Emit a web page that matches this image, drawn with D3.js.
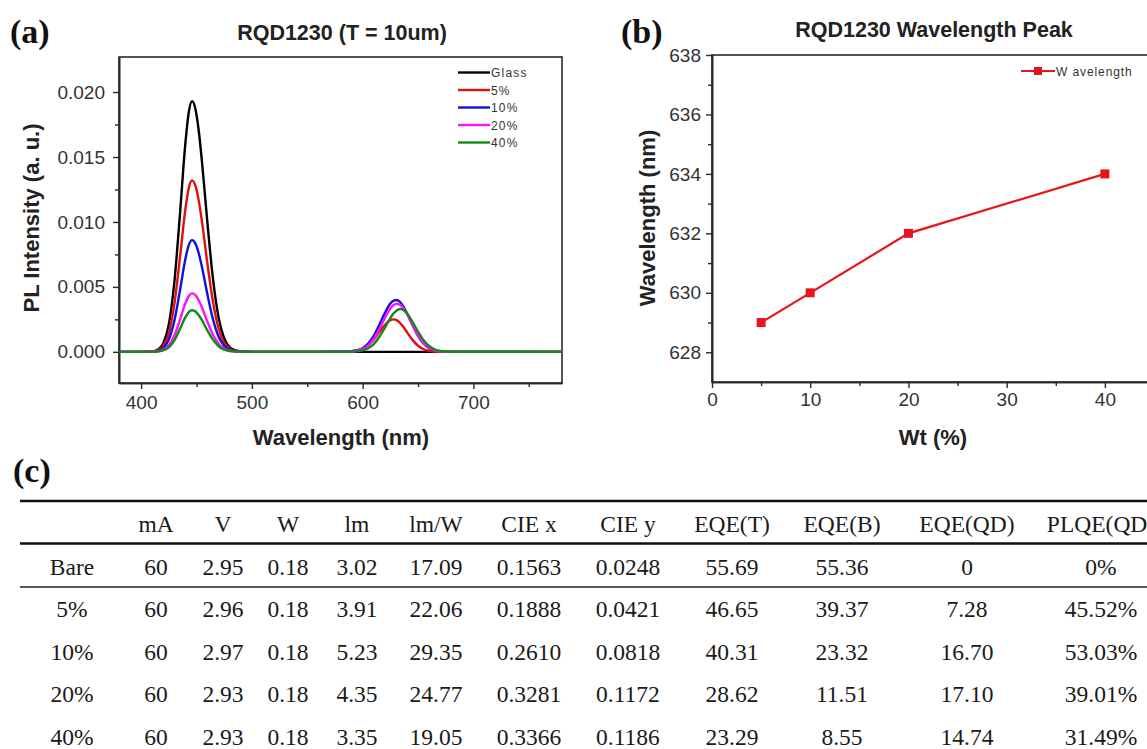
<!DOCTYPE html>
<html>
<head>
<meta charset="utf-8">
<script src="https://cdn.jsdelivr.net/npm/d3@7/dist/d3.min.js"></script>
<style>
  html, body { margin: 0; padding: 0; background: #fff; }
  svg { display: block; }
</style>
</head>
<body>
<svg id="chart" width="1147" height="749"></svg>
<script>
// ---------------- DATA ----------------
// Panel (a): PL spectra
const wavelengths = [380, 400, 410, 415, 420, 425, 430, 435, 440, 443, 446, 449, 452, 455, 460, 465, 470, 475, 480, 485, 490, 500,
  560, 590, 600, 605, 610, 615, 620, 625, 628, 631, 634, 637, 640, 645, 650, 655, 660, 665, 670, 680, 780];
const seriesNames = ["Glass", "5%", "10%", "20%", "40%"];
const glassValues = [0, 0, 0.00003, 0.00016, 0.00066, 0.00212, 0.00537, 0.01054, 0.01612, 0.01845, 0.0193, 0.0187, 0.01702, 0.01457, 0.00977, 0.00552, 0.00261, 0.00104, 0.00035, 0.00012, 0.00004, 0,
  0, 0, 0, 0, 0, 0, 0, 0, 0, 0, 0, 0, 0, 0, 0, 0, 0, 0, 0, 0, 0];
const wt5Values = [0, 0, 0.00002, 0.00011, 0.00045, 0.00145, 0.00367, 0.00721, 0.01102, 0.01262, 0.0132, 0.01279, 0.01164, 0.00997, 0.00668, 0.00378, 0.00178, 0.00071, 0.00024, 0.00008, 0.00003, 0,
  0, 0.00004, 0.00025, 0.00052, 0.00096, 0.00152, 0.00207, 0.00244, 0.0025, 0.00242, 0.0022, 0.00189, 0.00152, 0.00092, 0.00047, 0.0002, 0.00007, 0.00002, 0, 0, 0];
const wt10Values = [0, 0, 0.00001, 0.00007, 0.00029, 0.00095, 0.00239, 0.0047, 0.00718, 0.00822, 0.0086, 0.00833, 0.00759, 0.00649, 0.00435, 0.00246, 0.00116, 0.00046, 0.00015, 0.00005, 0.00002, 0,
  0, 0.00004, 0.00028, 0.00063, 0.00122, 0.00206, 0.00298, 0.00372, 0.00395, 0.00399, 0.00382, 0.00346, 0.00298, 0.00206, 0.00122, 0.00063, 0.00028, 0.00011, 0.00004, 0, 0];
const wt20Values = [0, 0, 0.00001, 0.00004, 0.00015, 0.0005, 0.00125, 0.00246, 0.00376, 0.0043, 0.0045, 0.00436, 0.00397, 0.0034, 0.00228, 0.00129, 0.00061, 0.00024, 0.00008, 0.00003, 0.00001, 0,
  0, 0.00003, 0.00022, 0.0005, 0.001, 0.00174, 0.00259, 0.00333, 0.0036, 0.0037, 0.0036, 0.00333, 0.00291, 0.00207, 0.00127, 0.00067, 0.00031, 0.00012, 0.00004, 0, 0];
const wt40Values = [0, 0, 0, 0.00003, 0.00011, 0.00035, 0.00089, 0.00175, 0.00267, 0.00306, 0.0032, 0.0031, 0.00282, 0.00242, 0.00162, 0.00092, 0.00043, 0.00017, 0.00006, 0.00002, 0.00001, 0,
  0, 0.00001, 0.00011, 0.00027, 0.0006, 0.00114, 0.00185, 0.0026, 0.00297, 0.00321, 0.0033, 0.00321, 0.00297, 0.00231, 0.00155, 0.00089, 0.00045, 0.00019, 0.00007, 0.00001, 0];
const aXTicks = [400, 500, 600, 700];
const aXMinor = [450, 550, 650, 750];
const aYTicks = [0, 0.005, 0.010, 0.015, 0.020];
const aYMinor = [0.0025, 0.0075, 0.0125, 0.0175];

// Panel (b): peak wavelength vs Wt
const wtPercent = [5, 10, 20, 40];
const peakWavelength = [629, 630, 632, 634];
const bXTicks = [0, 10, 20, 30, 40];
const bXMinor = [5, 15, 25, 35, 45];
const bYTicks = [628, 630, 632, 634, 636, 638];
const bYMinor = [629, 631, 633, 635, 637];

// Panel (c): table
const tableHeaders = ["", "mA", "V", "W", "lm", "lm/W", "CIE x", "CIE y", "EQE(T)", "EQE(B)", "EQE(QD)", "PLQE(QD)"];
const rowLabels = ["Bare", "5%", "10%", "20%", "40%"];
const colMA = ["60", "60", "60", "60", "60"];
const colV = ["2.95", "2.96", "2.97", "2.93", "2.93"];
const colW = ["0.18", "0.18", "0.18", "0.18", "0.18"];
const colLm = ["3.02", "3.91", "5.23", "4.35", "3.35"];
const colLmW = ["17.09", "22.06", "29.35", "24.77", "19.05"];
const colCIEx = ["0.1563", "0.1888", "0.2610", "0.3281", "0.3366"];
const colCIEy = ["0.0248", "0.0421", "0.0818", "0.1172", "0.1186"];
const colEQET = ["55.69", "46.65", "40.31", "28.62", "23.29"];
const colEQEB = ["55.36", "39.37", "23.32", "11.51", "8.55"];
const colEQEQD = ["0", "7.28", "16.70", "17.10", "14.74"];
const colPLQE = ["0%", "45.52%", "53.03%", "39.01%", "31.49%"];

// ---------------- LAYOUT / STYLE ----------------
const SANS = "'Liberation Sans', Arial, sans-serif";
const SERIF = "'Liberation Serif', 'Times New Roman', serif";
const AXIS_COLOR = "#2a2a2a";
const TICK_TEXT = "#333";
const seriesColors = ["#000000", "#e01010", "#1010e0", "#ff10ff", "#138a13"];
const pointColor = "#e8141b";

const svg = d3.select("#chart");

function styleAxis(g, fontSize) {
  g.selectAll(".domain").attr("stroke", AXIS_COLOR).attr("stroke-width", 1.6);
  g.selectAll(".tick line").attr("stroke", AXIS_COLOR).attr("stroke-width", 1.4);
  g.selectAll(".tick text").attr("fill", TICK_TEXT).style("font-family", SANS).style("font-size", fontSize + "px");
}

// ---------------- PANEL (a) ----------------
const A = { left: 119, right: 562, top: 57, bottom: 383 };
const xA = d3.scaleLinear().domain([380, 780]).range([A.left, A.right]);
const yA = d3.scaleLinear().domain([-0.0024, 0.0227]).range([A.bottom, A.top]);

const gA = svg.append("g");
gA.append("rect").attr("x", A.left).attr("y", A.top).attr("width", A.right - A.left).attr("height", A.bottom - A.top)
  .attr("fill", "none").attr("stroke", AXIS_COLOR).attr("stroke-width", 1.6);

gA.append("g").attr("transform", `translate(0,${A.bottom})`)
  .call(d3.axisBottom(xA).tickValues(aXMinor).tickSize(4).tickFormat("").tickSizeOuter(0))
  .call(g => styleAxis(g, 19));
gA.append("g").attr("transform", `translate(0,${A.bottom})`)
  .call(d3.axisBottom(xA).tickValues(aXTicks).tickSize(6).tickPadding(7).tickFormat(d3.format("d")).tickSizeOuter(0))
  .call(g => styleAxis(g, 19));
gA.append("g").attr("transform", `translate(${A.left},0)`)
  .call(d3.axisLeft(yA).tickValues(aYMinor).tickSize(4).tickFormat("").tickSizeOuter(0))
  .call(g => styleAxis(g, 19));
gA.append("g").attr("transform", `translate(${A.left},0)`)
  .call(d3.axisLeft(yA).tickValues(aYTicks).tickSize(6).tickPadding(8).tickFormat(d3.format(".3f")).tickSizeOuter(0))
  .call(g => styleAxis(g, 19));

const seriesValues = [glassValues, wt5Values, wt10Values, wt20Values, wt40Values];
const lineA = d3.line().x(d => xA(d[0])).y(d => yA(d[1])).curve(d3.curveMonotoneX);
svg.append("clipPath").attr("id", "clipA").append("rect")
  .attr("x", A.left).attr("y", A.top).attr("width", A.right - A.left).attr("height", A.bottom - A.top);
seriesValues.forEach((vals, i) => {
  const pts = wavelengths.map((w, j) => [w, vals[j]]);
  gA.append("path").datum(pts).attr("d", lineA).attr("fill", "none")
    .attr("stroke", seriesColors[i]).attr("stroke-width", 2.4).attr("stroke-linejoin", "round")
    .attr("clip-path", "url(#clipA)");
});

// legend (a)
const legA = gA.append("g");
seriesNames.forEach((name, i) => {
  const y = 72.5 + i * 17.5;
  legA.append("line").attr("x1", 458).attr("x2", 490).attr("y1", y).attr("y2", y)
    .attr("stroke", seriesColors[i]).attr("stroke-width", 2.4);
  legA.append("text").attr("x", 491).attr("y", y + 4.5).text(name)
    .style("font-family", SANS).style("font-size", "12px").style("letter-spacing", "1.2px").attr("fill", "#333");
});

// titles / labels (a)
svg.append("text").attr("x", 342).attr("y", 40).attr("text-anchor", "middle").text("RQD1230 (T = 10um)")
  .style("font-family", SANS).style("font-weight", "bold").style("font-size", "21.5px").attr("fill", "#222");
svg.append("text").attr("x", 341).attr("y", 445).attr("text-anchor", "middle").text("Wavelength (nm)")
  .style("font-family", SANS).style("font-weight", "bold").style("font-size", "22px").attr("fill", "#222");
svg.append("text").attr("transform", "translate(39,218) rotate(-90)").attr("text-anchor", "middle").text("PL Intensity (a. u.)")
  .style("font-family", SANS).style("font-weight", "bold").style("font-size", "22px").attr("fill", "#222");
svg.append("text").attr("x", 10).attr("y", 43).text("(a)")
  .style("font-family", SERIF).style("font-weight", "bold").style("font-size", "34px").attr("fill", "#111");

// ---------------- PANEL (b) ----------------
const B = { left: 712, right: 1154, top: 55, bottom: 382 };
const xB = d3.scaleLinear().domain([0, 45]).range([B.left, B.right]);
const yB = d3.scaleLinear().domain([627, 638]).range([B.bottom, B.top]);
const gB = svg.append("g");
gB.append("rect").attr("x", B.left).attr("y", B.top).attr("width", B.right - B.left).attr("height", B.bottom - B.top)
  .attr("fill", "none").attr("stroke", AXIS_COLOR).attr("stroke-width", 1.6);
gB.append("g").attr("transform", `translate(0,${B.bottom})`)
  .call(d3.axisBottom(xB).tickValues(bXMinor).tickSize(4).tickFormat("").tickSizeOuter(0))
  .call(g => styleAxis(g, 19));
gB.append("g").attr("transform", `translate(0,${B.bottom})`)
  .call(d3.axisBottom(xB).tickValues(bXTicks).tickSize(6).tickPadding(5).tickFormat(d3.format("d")).tickSizeOuter(0))
  .call(g => styleAxis(g, 19));
gB.append("g").attr("transform", `translate(${B.left},0)`)
  .call(d3.axisLeft(yB).tickValues(bYMinor).tickSize(4).tickFormat("").tickSizeOuter(0))
  .call(g => styleAxis(g, 19));
gB.append("g").attr("transform", `translate(${B.left},0)`)
  .call(d3.axisLeft(yB).tickValues(bYTicks).tickSize(6).tickPadding(5).tickFormat(d3.format("d")).tickSizeOuter(0))
  .call(g => styleAxis(g, 19));

const ptsB = wtPercent.map((w, i) => [w, peakWavelength[i]]);
gB.append("path").datum(ptsB).attr("d", d3.line().x(d => xB(d[0])).y(d => yB(d[1])))
  .attr("fill", "none").attr("stroke", pointColor).attr("stroke-width", 2.2);
gB.selectAll("rect.pt").data(ptsB).join("rect").attr("class", "pt")
  .attr("x", d => xB(d[0]) - 4.5).attr("y", d => yB(d[1]) - 4.5).attr("width", 9).attr("height", 9)
  .attr("fill", pointColor);

// legend (b)
gB.append("line").attr("x1", 1021).attr("x2", 1055).attr("y1", 71).attr("y2", 71)
  .attr("stroke", pointColor).attr("stroke-width", 2.2);
gB.append("rect").attr("x", 1034).attr("y", 67).attr("width", 8).attr("height", 8).attr("fill", pointColor);
gB.append("text").attr("x", 1056).attr("y", 75.5).text("W avelength")
  .style("font-family", SANS).style("font-size", "12px").style("letter-spacing", "0.9px").attr("fill", "#333");

svg.append("text").attr("x", 934).attr("y", 37).attr("text-anchor", "middle").text("RQD1230 Wavelength Peak")
  .style("font-family", SANS).style("font-weight", "bold").style("font-size", "21.5px").attr("fill", "#222");
svg.append("text").attr("x", 933).attr("y", 445).attr("text-anchor", "middle").text("Wt (%)")
  .style("font-family", SANS).style("font-weight", "bold").style("font-size", "22px").attr("fill", "#222");
svg.append("text").attr("transform", "translate(655,218) rotate(-90)").attr("text-anchor", "middle").text("Wavelength (nm)")
  .style("font-family", SANS).style("font-weight", "bold").style("font-size", "22px").attr("fill", "#222");
svg.append("text").attr("x", 621).attr("y", 43).text("(b)")
  .style("font-family", SERIF).style("font-weight", "bold").style("font-size", "34px").attr("fill", "#111");

// ---------------- PANEL (c): table ----------------
svg.append("text").attr("x", 13).attr("y", 482).text("(c)")
  .style("font-family", SERIF).style("font-weight", "bold").style("font-size", "34px").attr("fill", "#111");

const colWidths = [104, 64, 70, 60, 78, 80, 106, 92, 116, 104, 146, 122];
const tableLeft = 20;
const colEdges = [tableLeft];
colWidths.forEach(w => colEdges.push(colEdges[colEdges.length - 1] + w));
const xC = d3.scaleOrdinal().domain(tableHeaders.map((h, i) => i)).range(colWidths.map((w, i) => colEdges[i] + w / 2));
const yC = d3.scaleBand().domain(["header"].concat(rowLabels)).range([503, 758]);

const columns = [rowLabels, colMA, colV, colW, colLm, colLmW, colCIEx, colCIEy, colEQET, colEQEB, colEQEQD, colPLQE];
const gC = svg.append("g").style("font-family", SERIF).style("font-size", "23.5px").attr("fill", "#1a1a1a");

gC.append("line").attr("x1", tableLeft).attr("x2", 1147).attr("y1", 501).attr("y2", 501).attr("stroke", "#111").attr("stroke-width", 2.6);
gC.append("line").attr("x1", tableLeft).attr("x2", 1147).attr("y1", yC("Bare") - 2).attr("y2", yC("Bare") - 2).attr("stroke", "#111").attr("stroke-width", 2.6);
gC.append("line").attr("x1", tableLeft).attr("x2", 1147).attr("y1", yC("5%") - 1).attr("y2", yC("5%") - 1).attr("stroke", "#222").attr("stroke-width", 1.6);

tableHeaders.forEach((h, i) => {
  gC.append("text").attr("x", xC(i)).attr("y", yC("header") + yC.bandwidth() / 2 + 8).attr("text-anchor", "middle").text(h);
});
rowLabels.forEach((r, ri) => {
  columns.forEach((col, ci) => {
    gC.append("text").attr("x", xC(ci)).attr("y", yC(r) + yC.bandwidth() / 2 + 8).attr("text-anchor", "middle").text(col[ri]);
  });
});
</script>
</body>
</html>
